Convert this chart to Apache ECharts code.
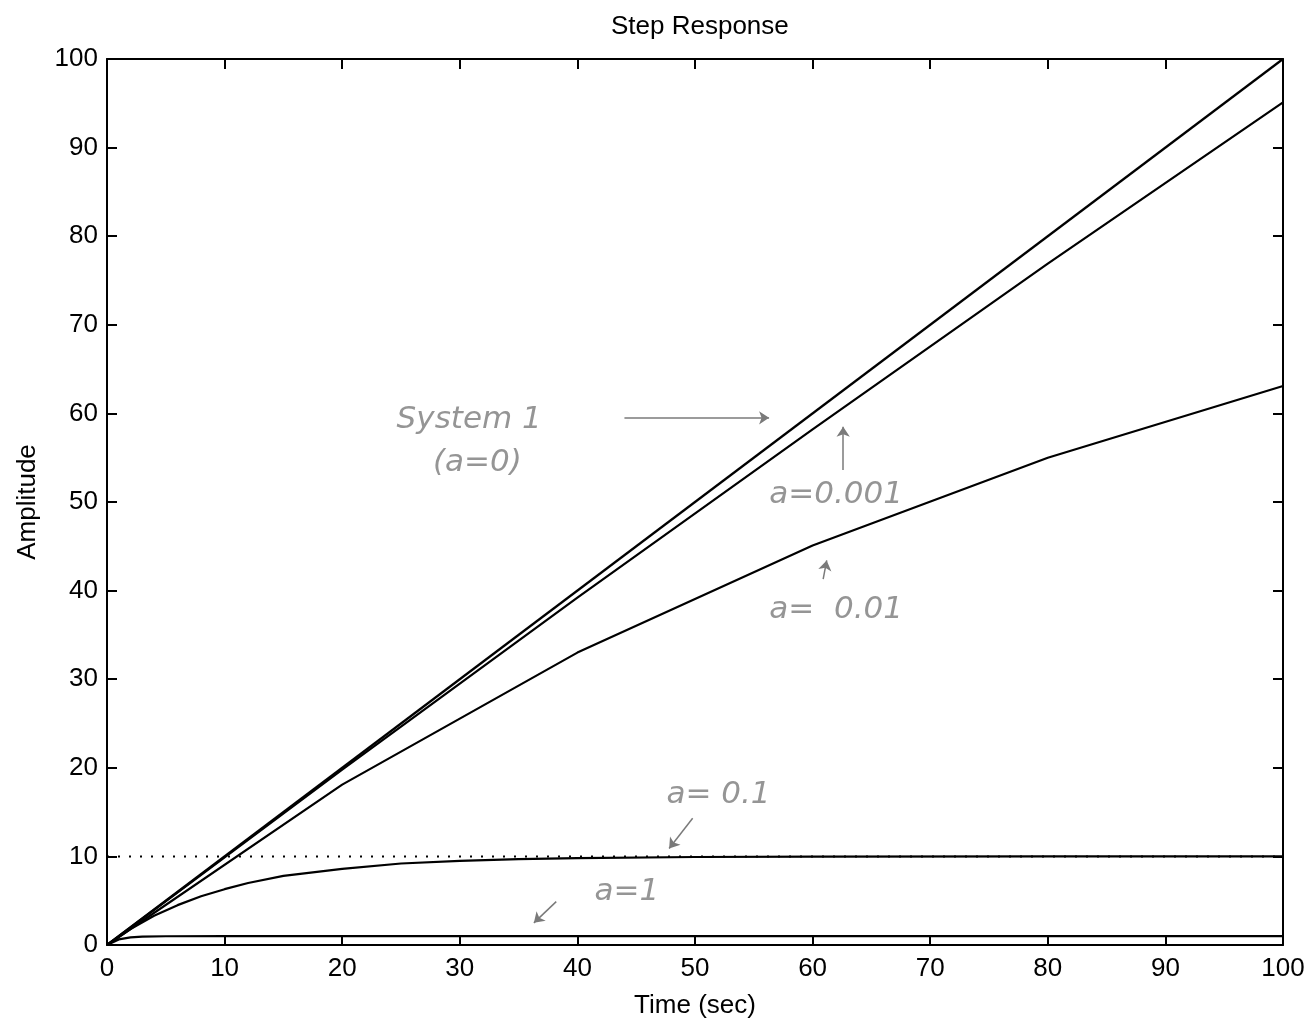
<!DOCTYPE html>
<html>
<head>
<meta charset="utf-8">
<script src="https://cdn.jsdelivr.net/npm/echarts@6/dist/echarts.min.js"></script>
<style>
html, body { margin: 0; padding: 0; background: #fff; }
#chart { width: 1315px; height: 1036px; }
</style>
</head>
<body>
<div id="chart"></div>
<script>
// values
var xTicks = [0, 10, 20, 30, 40, 50, 60, 70, 80, 90, 100];
var yTicks = [0, 10, 20, 30, 40, 50, 60, 70, 80, 90, 100];

var tA0 = [0, 100];
var yA0 = [0, 100];

var tA0001 = [0, 20, 40, 60, 80, 100];
var yA0001 = [0, 19.8, 39.2, 58.2, 76.9, 95.1];

var tA001 = [0, 20, 40, 60, 80, 100];
var yA001 = [0, 18.1, 33.0, 45.1, 55.0, 63.1];

var tA01 = [0, 2, 4, 6, 8, 10, 12, 15, 20, 25, 30, 35, 40, 50, 60, 80, 100];
var yA01 = [0, 1.8, 3.3, 4.5, 5.5, 6.3, 7.0, 7.8, 8.6, 9.2, 9.5, 9.7, 9.8, 9.93, 9.98, 10, 10];

var tA1 = [0, 1, 2, 3, 5, 10, 100];
var yA1 = [0, 0.63, 0.86, 0.95, 0.99, 1, 1];

var steadyT = [0, 100];
var steadyY = [10, 10];

// handwritten notes: [text, t, amplitude]
var notes = [
    ['System 1', 30.8, 59.3],
    ['(a=0)', 31.5, 54.4],
    ['a=0.001', 62, 50.8],
    ['a=  0.01', 62, 37.8],
    ['a= 0.1', 52, 16.9],
    ['a=1', 44.2, 6.0]
];
// note arrows: [t0, y0, t1, y1]
var arrows = [
    [44, 59.5, 56.3, 59.5],
    [62.6, 53.6, 62.6, 58.5],
    [60.9, 41.3, 61.2, 43.4],
    [49.8, 14.3, 47.8, 10.9],
    [38.2, 4.9, 36.3, 2.5]
];

function pairs(t, y) {
    return t.map(function (v, i) { return [v, y[i]]; });
}

var font = 'Liberation Sans, Arial, Helvetica, sans-serif';
var hand = 'DejaVu Sans, sans-serif';

var chart = echarts.init(document.getElementById('chart'));

var axisCommon = {
    type: 'value',
    min: 0,
    max: 100,
    interval: 10,
    splitLine: { show: false },
    axisLine: { show: true, onZero: false, lineStyle: { color: '#000', width: 2 } },
    axisTick: { show: true, inside: true, length: 10, lineStyle: { color: '#000', width: 2 } }
};

function line(name, data) {
    return {
        name: name,
        type: 'line',
        data: data,
        showSymbol: false,
        symbol: 'none',
        smooth: false,
        z: 3,
        lineStyle: { color: '#000', width: 2.2 }
    };
}

var option = {
    animation: false,
    backgroundColor: '#fff',
    title: {
        text: 'Step Response',
        left: 606,
        top: 9,
        textStyle: { fontFamily: font, fontSize: 26, fontWeight: 'normal', color: '#000' }
    },
    grid: { left: 107, right: 32, top: 59, bottom: 91 },
    xAxis: [
        Object.assign({}, axisCommon, {
            position: 'bottom',
            name: 'Time (sec)',
            nameLocation: 'middle',
            nameGap: 48,
            nameTextStyle: { fontFamily: font, fontSize: 26, color: '#000' },
            axisLabel: { fontFamily: font, fontSize: 26, color: '#000', margin: 11,
                formatter: function (v) { return xTicks.indexOf(v) >= 0 ? String(v) : ''; } }
        }),
        Object.assign({}, axisCommon, {
            position: 'top',
            axisLabel: { show: false }
        })
    ],
    yAxis: [
        Object.assign({}, axisCommon, {
            position: 'left',
            name: 'Amplitude',
            nameLocation: 'middle',
            nameGap: 66,
            nameTextStyle: { fontFamily: font, fontSize: 26, color: '#000' },
            axisLabel: { fontFamily: font, fontSize: 26, color: '#000', margin: 9,
                formatter: function (v) { return yTicks.indexOf(v) >= 0 ? String(v) : ''; } }
        }),
        Object.assign({}, axisCommon, {
            position: 'right',
            axisLabel: { show: false }
        })
    ],
    series: [
        {
            name: 'steady',
            type: 'line',
            data: pairs(steadyT, steadyY),
            symbol: 'none',
            z: 2,
            lineStyle: { color: '#000', width: 2, type: [2, 9] }
        },
        line('a=0', pairs(tA0, yA0)),
        line('a=0.001', pairs(tA0001, yA0001)),
        line('a=0.01', pairs(tA001, yA001)),
        line('a=0.1', pairs(tA01, yA01)),
        line('a=1', pairs(tA1, yA1)),
        {
            name: 'notes',
            type: 'scatter',
            symbolSize: 0,
            z: 4,
            data: notes.map(function (n) { return { value: [n[1], n[2]], name: n[0] }; }),
            label: {
                show: true,
                position: 'inside',
                formatter: '{b}',
                fontFamily: hand,
                fontStyle: 'italic',
                fontWeight: 200,
                fontSize: 31,
                color: '#7a7a7a'
            },
            silent: true
        },
        {
            name: 'arrows',
            type: 'lines',
            coordinateSystem: 'cartesian2d',
            z: 4,
            symbol: ['none', 'arrow'],
            symbolSize: 10,
            lineStyle: { color: '#7a7a7a', width: 1.5, opacity: 1 },
            data: arrows.map(function (a) { return { coords: [[a[0], a[1]], [a[2], a[3]]] }; }),
            silent: true
        }
    ]
};

chart.setOption(option);
</script>
</body>
</html>
